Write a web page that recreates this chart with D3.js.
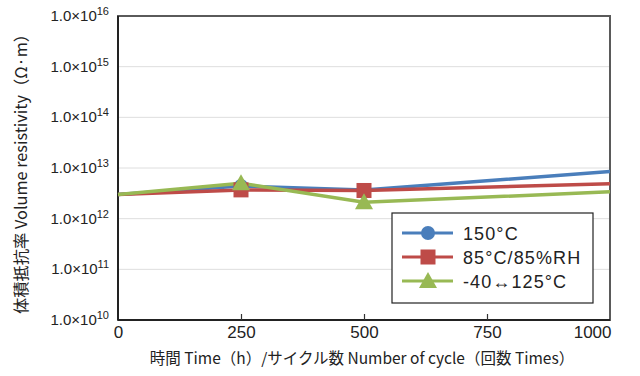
<!DOCTYPE html>
<html><head><meta charset="utf-8">
<script src="https://cdn.jsdelivr.net/npm/d3@7"></script>
<style>body{margin:0;background:#fff}svg{display:block}</style>
</head><body>
<svg id="c" width="640" height="376"></svg>
<script>
const xValues = [0, 250, 500, 1000];
const seriesNames = ["150°C", "85°C/85%RH", "-40↔125°C"];
const s150 = [3.0e12, 4.4e12, 3.7e12, 8.5e12];
const s8585 = [3.0e12, 3.7e12, 3.6e12, 4.9e12];
const sCycle = [3.0e12, 5.0e12, 2.1e12, 3.4e12];
const xTicks = [0, 250, 500, 750, 1000];
const yExps = [10, 11, 12, 13, 14, 15, 16];
const colors = ["#4a7ebb", "#be4b48", "#98b954"];
const markers = ["circle", "square", "triangle"];

const svg = d3.select("#c");
const L = 118, R = 610, T = 16, B = 320;
const x = d3.scaleLinear().domain([0, 1000]).range([L, R]);
const y = d3.scaleLog().domain([1e10, 1e16]).range([B, T]);
const font = "'Liberation Sans', Arial, sans-serif";
const cjk = "'Noto Sans CJK JP', sans-serif";

// gridlines
svg.append("g").selectAll("line").data(yExps).join("line")
  .attr("x1", L).attr("x2", R)
  .attr("y1", d => y(Math.pow(10, d))).attr("y2", d => y(Math.pow(10, d)))
  .attr("stroke", "#dedede").attr("stroke-width", 1);

// frame
svg.append("rect").attr("x", L).attr("y", T).attr("width", R - L).attr("height", B - T)
  .attr("fill", "none").attr("stroke", "#5a5a5a").attr("stroke-width", 2);
svg.append("line").attr("x1", L).attr("x2", L).attr("y1", T).attr("y2", B).attr("stroke", "#222").attr("stroke-width", 2);
svg.append("line").attr("x1", L).attr("x2", R).attr("y1", B).attr("y2", B).attr("stroke", "#222").attr("stroke-width", 2);

// x axis
const xAxis = d3.axisBottom(x).tickValues(xTicks).tickSizeInner(-6).tickSizeOuter(0).tickPadding(6).tickFormat(d3.format("d"));
const gx = svg.append("g").attr("transform", `translate(0,${B})`).call(xAxis);
gx.select(".domain").remove();
gx.selectAll(".tick line").attr("stroke", "#333").attr("stroke-width", 1.2)
  .filter(d => d === 0 || d === 1000).remove();
gx.selectAll(".tick text").attr("font-family", font).attr("font-size", 17).attr("fill", "#222");
gx.selectAll(".tick text").filter(d => d === 1000).attr("text-anchor", "end").attr("dx", 1);

// y axis labels
const gy = svg.append("g");
yExps.forEach(e => {
  const t = gy.append("text").attr("x", 109).attr("y", y(Math.pow(10, e)) + 5)
    .attr("text-anchor", "end").attr("font-family", font).attr("font-size", 15).attr("fill", "#222");
  t.append("tspan").text("1.0×10");
  t.append("tspan").attr("dy", -6).attr("font-size", 11).text(e);
});

// titles
svg.append("text").attr("transform", "translate(27,170) rotate(-90)")
  .attr("text-anchor", "middle").attr("font-family", cjk)
  .attr("font-size", 16.3).attr("fill", "#222")
  .text("体積抵抗率 Volume resistivity（Ω·m）");
svg.append("text").attr("x", 362).attr("y", 364)
  .attr("text-anchor", "middle").attr("font-family", cjk)
  .attr("font-size", 15.5).attr("fill", "#222")
  .text("時間 Time（h）/サイクル数 Number of cycle（回数 Times）");

// series
const series = [s150, s8585, sCycle];
const line = d3.line().x((d, i) => x(xValues[i])).y(d => y(d));
function drawMarker(g, type, cx, cy, color) {
  if (type === "circle") g.append("circle").attr("cx", cx).attr("cy", cy).attr("r", 7).attr("fill", color);
  else if (type === "square") g.append("rect").attr("x", cx - 7.5).attr("y", cy - 7.5).attr("width", 15).attr("height", 15).attr("fill", color);
  else g.append("path").attr("d", `M${cx},${cy - 9}L${cx + 9},${cy + 7}L${cx - 9},${cy + 7}Z`).attr("fill", color);
}
series.forEach((s, k) => {
  svg.append("path").attr("d", line(s)).attr("fill", "none").attr("stroke", colors[k]).attr("stroke-width", 3.5);
});
series.forEach((s, k) => {
  const g = svg.append("g");
  s.forEach((v, i) => {
    if (xValues[i] === 0 || xValues[i] === 1000) return;
    drawMarker(g, markers[k], x(xValues[i]), y(v), colors[k]);
  });
});

// legend
const lg = svg.append("g");
lg.append("rect").attr("x", 392).attr("y", 213).attr("width", 201).attr("height", 90)
  .attr("fill", "#fff").attr("stroke", "#222").attr("stroke-width", 1.2);
seriesNames.forEach((n, k) => {
  const cy = 233 + k * 24;
  lg.append("line").attr("x1", 402).attr("x2", 453).attr("y1", cy).attr("y2", cy)
    .attr("stroke", colors[k]).attr("stroke-width", 3);
  drawMarker(lg, markers[k], 428, cy, colors[k]);
  lg.append("text").attr("x", 463).attr("y", cy + 6.5).attr("font-family", font)
    .attr("font-size", 18).attr("letter-spacing", 1.1).attr("fill", "#222").text(n);
});
</script>
</body></html>
